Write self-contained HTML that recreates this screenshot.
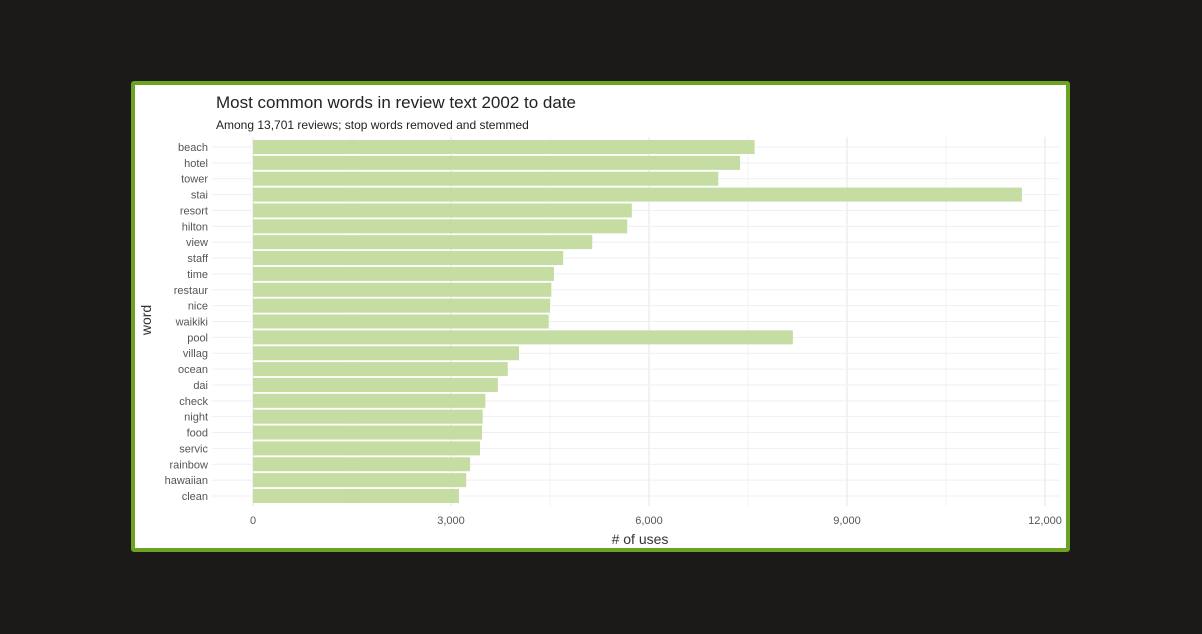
<!DOCTYPE html>
<html><head><meta charset="utf-8"><style>
body{margin:0;width:1202px;height:634px;background:#1c1a19;overflow:hidden;font-family:"Liberation Sans",sans-serif}
#box{position:absolute;left:131px;top:81px;width:931px;height:463px;border:4px solid #6ba323;border-radius:3px;background:#fff}
</style></head><body>
<div id="box"></div>
<svg id="chart" width="1202" height="634" style="position:absolute;left:0;top:0">
<text x="216" y="108" font-size="17" fill="#222">Most common words in review text 2002 to date</text>
<text x="216" y="129" font-size="12" fill="#222">Among 13,701 reviews; stop words removed and stemmed</text>
<text x="640" y="544" font-size="14" fill="#333" text-anchor="middle"># of uses</text>
<text transform="translate(151,320) rotate(-90)" font-size="14" fill="#333" text-anchor="middle">word</text>
<g id="grid"></g><g id="bars"></g><g id="labels"></g>
</svg>
<script>
const words=["beach","hotel","tower","stai","resort","hilton","view","staff","time","restaur","nice","waikiki","pool","villag","ocean","dai","check","night","food","servic","rainbow","hawaiian","clean"];
const counts=[7600,7380,7050,11650,5740,5670,5140,4700,4560,4520,4500,4480,8180,4030,3860,3710,3520,3480,3470,3440,3290,3230,3120];
const ticks=[0,3000,6000,9000,12000];
const tickLabels=["0","3,000","6,000","9,000","12,000"];
const NS="http://www.w3.org/2000/svg";
const x=v=>253+v*(1045-253)/12000;
const y=i=>147+i*(496-147)/22;
const g=document.getElementById('grid'),b=document.getElementById('bars'),l=document.getElementById('labels');
function mk(p,t,a){const e=document.createElementNS(NS,t);for(const k in a)e.setAttribute(k,a[k]);p.appendChild(e);return e;}
for(let k=0;k<ticks.length;k++){
 const ln=mk(g,'line',{x1:x(ticks[k]),x2:x(ticks[k]),y1:137,y2:506,stroke:'#e6e6e6','stroke-width':1});
 
 
 if(k<ticks.length-1){const m=(ticks[k]+ticks[k+1])/2;const mn=mk(g,'line',{x1:x(m),x2:x(m),y1:137,y2:506,stroke:'#f3f3f3','stroke-width':1});
 
 }
 const t=mk(l,'text',{x:x(ticks[k]),y:524,'font-size':11,fill:'#555','text-anchor':'middle'});t.textContent=tickLabels[k];
 
 
}
words.forEach((w,i)=>{
 const gl=mk(g,'line',{x1:212,x2:1060,y1:y(i),y2:y(i),stroke:'#efefef','stroke-width':1});
 
 
 const r=mk(b,'rect',{x:x(0),y:y(i)-7,width:x(counts[i])-x(0),height:14,fill:'#c5dca2'});
 
 
 const t=mk(l,'text',{x:208,y:y(i)+4,'font-size':11,fill:'#555','text-anchor':'end'});t.textContent=w;
 
 
});
</script>
</body></html>
